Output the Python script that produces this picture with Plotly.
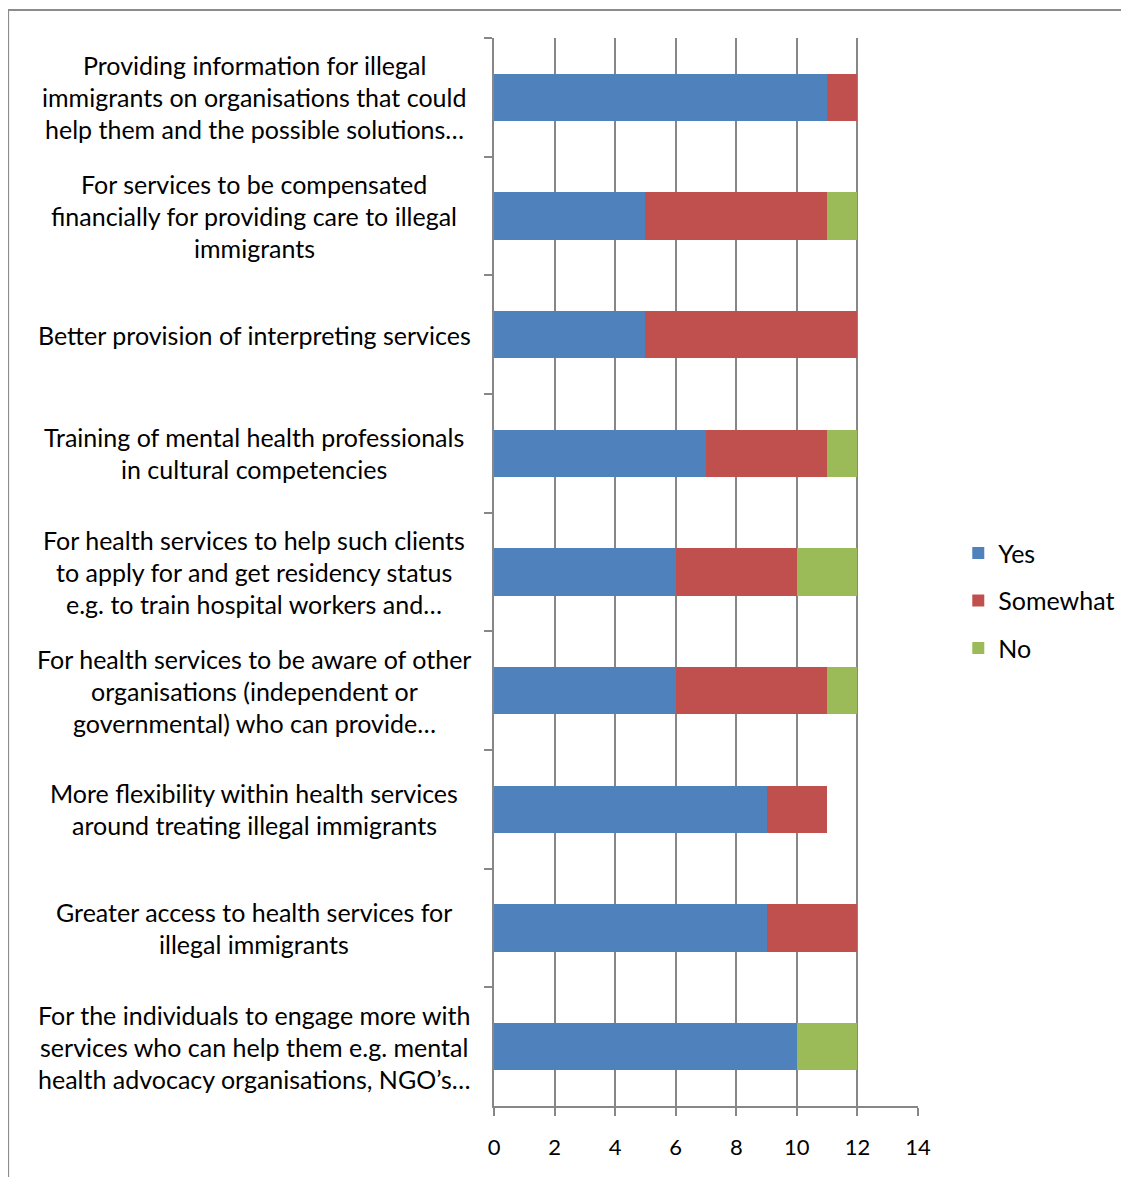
import plotly.graph_objects as go

# categories, top to bottom, each split into the lines shown in the chart
label_lines = [
    ["Providing information for illegal", "immigrants on organisations that could", "help them and the possible solutions\u2026"],
    ["For services to be compensated", "financially for providing care to illegal", "immigrants"],
    ["Better provision of interpreting services"],
    ["Training of mental health professionals", "in cultural competencies"],
    ["For health services to help such clients", "to apply for and get residency status", "e.g. to train hospital workers and\u2026"],
    ["For health services to be aware of other", "organisations (independent or", "governmental) who can provide\u2026"],
    ["More flexibility within health services", "around treating illegal immigrants"],
    ["Greater access to health services for", "illegal immigrants"],
    ["For the individuals to engage more with", "services who can help them e.g. mental", "health advocacy organisations, NGO\u2019s\u2026"],
]
categories = [" ".join(l) for l in label_lines]

yes = [11, 5, 5, 7, 6, 6, 9, 9, 10]
somewhat = [1, 6, 7, 4, 4, 5, 2, 3, 0]
no = [0, 1, 0, 1, 2, 1, 0, 0, 2]

x_ticks = [0, 2, 4, 6, 8, 10, 12, 14]

FONT = "Lato"
GRID = "#878787"

fig = go.Figure()
for name, vals, col in [("Yes", yes, "#4F81BD"), ("Somewhat", somewhat, "#C0504D"), ("No", no, "#9BBB59")]:
    fig.add_trace(go.Bar(
        y=categories, x=vals, name=name, orientation="h",
        marker=dict(color=col, line=dict(width=0)),
        legendgroup=name,
    ))

# multi-line category labels, centred block to the left of the axis
for cat, lines in zip(categories, label_lines):
    n = len(lines)
    for k, line in enumerate(lines):
        fig.add_annotation(
            x=0, xref="paper", y=cat, yref="y",
            text=line, showarrow=False,
            xanchor="center", yanchor="middle",
            xshift=-240, yshift=-(k - (n - 1) / 2) * 32,
            font=dict(family=FONT, size=25, color="#000000"),
        )

# outer chart frame
fig.add_shape(type="rect", xref="paper", yref="paper",
              x0=-1.146, x1=1.6, y0=-0.12, y1=1.0262,
              line=dict(color="#8c8c8c", width=2), layer="below")

# page body has an 8px margin, so the figure is smaller and fits the window
fig.update_layout(
    width=1113, height=1169,
    margin=dict(l=486, r=203, t=30, b=71, autoexpand=False),
    paper_bgcolor="white", plot_bgcolor="white",
    barmode="stack", bargap=0.6,
    font=dict(family=FONT, size=22, color="#000000"),
    legend=dict(
        x=1.095, y=0.473, xanchor="left", yanchor="middle",
        traceorder="grouped", tracegroupgap=12,
        font=dict(family=FONT, size=25),
        itemwidth=30,
    ),
    xaxis=dict(
        range=[0, 14], tickvals=x_ticks,
        showgrid=True, gridcolor=GRID, gridwidth=2,
        showline=True, linecolor=GRID, linewidth=2,
        ticks="outside", ticklen=8, tickcolor=GRID, tickwidth=2,
        ticklabelstandoff=13, zeroline=False,
        tickfont=dict(family=FONT, size=22),
    ),
    yaxis=dict(
        autorange="reversed",
        showticklabels=False, showgrid=False,
        showline=True, linecolor=GRID, linewidth=2,
        ticks="outside", ticklen=8, tickcolor=GRID, tickwidth=2,
        tickson="boundaries",
    ),
)

fig.write_html("out.html")
